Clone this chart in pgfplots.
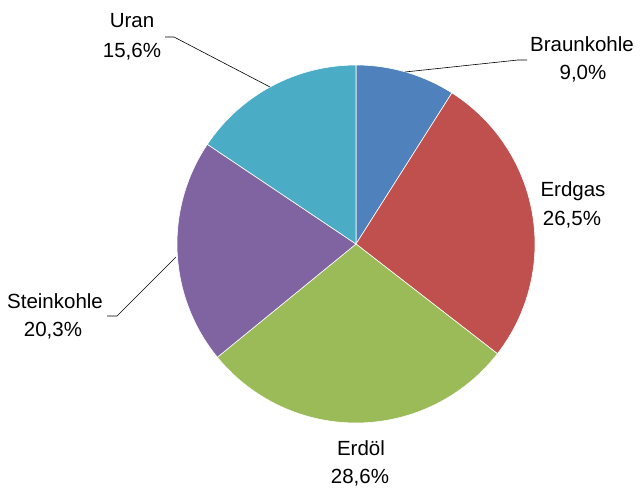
\documentclass[border=0pt]{standalone}
\usepackage{pgfplots}
\pgfplotsset{compat=1.18}
\usepackage{fontspec}
\setmainfont{Liberation Sans}

\definecolor{cBraun}{HTML}{4F81BD}
\definecolor{cGas}{HTML}{C0504D}
\definecolor{cOel}{HTML}{9BBB59}
\definecolor{cStein}{HTML}{8064A2}
\definecolor{cUran}{HTML}{4BACC6}

% shares in percent, clockwise from 12 o'clock
\def\vBraun{9.0}
\def\vGas{26.5}
\def\vOel{28.6}
\def\vStein{20.3}
\def\vUran{15.6}

\pgfmathsetmacro\aA{90}
\pgfmathsetmacro\aB{\aA-3.6*\vBraun}
\pgfmathsetmacro\aC{\aB-3.6*\vGas}
\pgfmathsetmacro\aD{\aC-3.6*\vOel}
\pgfmathsetmacro\aE{\aD-3.6*\vStein}
\pgfmathsetmacro\aF{\aE-3.6*\vUran}

\newcommand{\slice}[3]{%
  \fill[#3, draw=white, line width=0.6pt] (axis cs:356,244) -- ++(#1:179pt)
    arc[start angle=#1, end angle=#2, radius=179pt] -- cycle;}
\newcommand{\lbl}[3]{\node[anchor=base, inner sep=0pt] at (axis cs:#1,#2) {\fontsize{20.5}{28}\selectfont #3};}

\begin{document}
\begin{tikzpicture}
\begin{axis}[
    width=640pt, height=489pt, scale only axis,
    xmin=0, xmax=640, ymin=0, ymax=489,
    y dir=reverse,
    hide axis, clip=false,
    ]
    \path (axis cs:0,0) (axis cs:640,489);
    \slice{\aA}{\aB}{cBraun}
    \slice{\aB}{\aC}{cGas}
    \slice{\aC}{\aD}{cOel}
    \slice{\aD}{\aE}{cStein}
    \slice{\aE}{\aF}{cUran}
    % leader lines
    \draw[black, line width=0.6pt] (axis cs:527,60) -- (axis cs:518,60) -- (axis cs:405,72);
    \draw[black, line width=0.6pt] (axis cs:165,37) -- (axis cs:174,37) -- (axis cs:270,87);
    \draw[black, line width=0.6pt] (axis cs:107,316) -- (axis cs:117,316) -- (axis cs:176,257);
    % labels
    \lbl{582}{52}{Braunkohle}
    \lbl{583}{80}{9,0\%}
    \lbl{573}{197}{Erdgas}
    \lbl{572}{226}{26,5\%}
    \lbl{361}{455}{Erdöl}
    \lbl{360}{483}{28,6\%}
    \lbl{55}{308}{Steinkohle}
    \lbl{53}{336}{20,3\%}
    \lbl{132}{28}{Uran}
    \lbl{132}{58}{15,6\%}
\end{axis}
\end{tikzpicture}
\end{document}
